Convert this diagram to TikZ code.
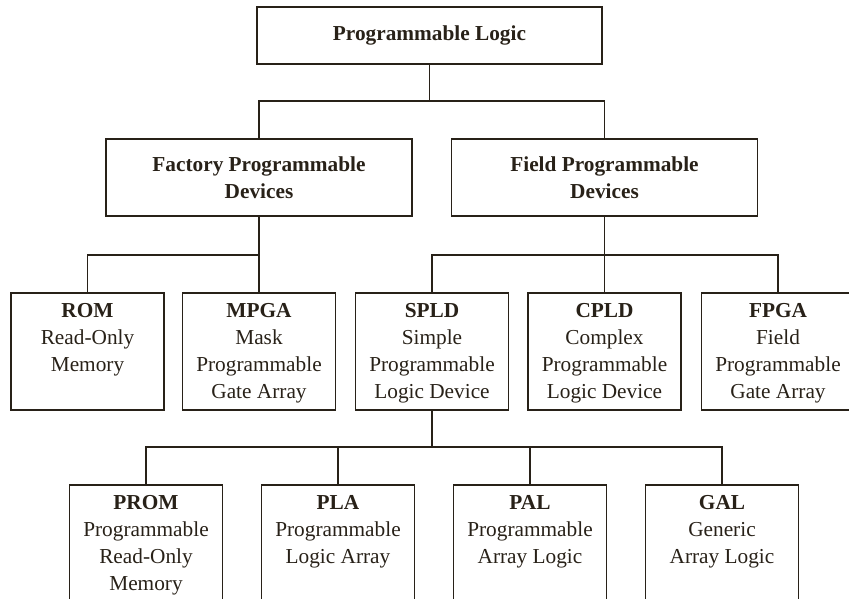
\documentclass[tikz,border=0pt]{standalone}
\usepackage{fontspec}
\setmainfont{Liberation Serif}
\definecolor{ink}{RGB}{40,33,24}
\newcommand{\leaftext}[2]{\parbox[t][97pt][t]{150pt}{\centering\textbf{#1}\\#2}}

\begin{document}
\begin{tikzpicture}[x=1pt, y=-1pt, line width=1.2pt, draw=ink, text=ink,
        every node/.style={font=\fontsize{21.3}{27}\selectfont},
        headbox/.style={draw, align=center, font=\fontsize{21.3}{27}\selectfont\bfseries, minimum width=306pt, minimum height=77pt},
        leafbox/.style={draw, inner xsep=0pt, inner ysep=10pt, minimum width=153pt}]
        \useasboundingbox (0,0) rectangle (849,598);

        % Draw the root
        \node[headbox, minimum width=345pt, minimum height=57pt] (logic) at (429.5, 35.5) {Programmable Logic};

        % Draw the two families
        \node[headbox] (factory) at (259, 177.5) {Factory Programmable\\Devices};
        \node[headbox] (field) at (604.5, 177.5) {Field Programmable\\Devices};

        % Draw the second row
        \node[leafbox] (rom) at (87.5, 351.5) {\leaftext{ROM}{Read-Only\\Memory}};
        \node[leafbox] (mpga) at (259, 351.5) {\leaftext{MPGA}{Mask\\Programmable\\Gate Array}};
        \node[leafbox] (spld) at (432, 351.5) {\leaftext{SPLD}{Simple\\Programmable\\Logic Device}};
        \node[leafbox] (cpld) at (604.5, 351.5) {\leaftext{CPLD}{Complex\\Programmable\\Logic Device}};
        \node[leafbox] (fpga) at (778, 351.5) {\leaftext{FPGA}{Field\\Programmable\\Gate Array}};

        % Draw the third row
        \node[leafbox] (prom) at (146, 543.5) {\leaftext{PROM}{Programmable\\Read-Only\\Memory}};
        \node[leafbox] (pla) at (338, 543.5) {\leaftext{PLA}{Programmable\\Logic Array}};
        \node[leafbox] (pal) at (530, 543.5) {\leaftext{PAL}{Programmable\\Array Logic}};
        \node[leafbox] (gal) at (722, 543.5) {\leaftext{GAL}{Generic\\Array Logic}};

        % Draw the connectors
        \coordinate (top) at (429.5, 101);
        \coordinate (left) at (259, 255);
        \coordinate (right) at (604.5, 255);
        \coordinate (low) at (432, 447);
        \draw (logic.south) -- (top);
        \draw (factory.north) |- (top) -| (field.north);
        \draw (factory.south) -- (mpga.north);
        \draw (rom.north) |- (left);
        \draw (field.south) -- (cpld.north);
        \draw (spld.north) |- (right) -| (fpga.north);
        \draw (spld.south) -- (low);
        \draw (prom.north) |- (low) -| (gal.north);
        \draw (pla.north) -- (pla.north |- low);
        \draw (pal.north) -- (pal.north |- low);
    \end{tikzpicture}
\end{document}
